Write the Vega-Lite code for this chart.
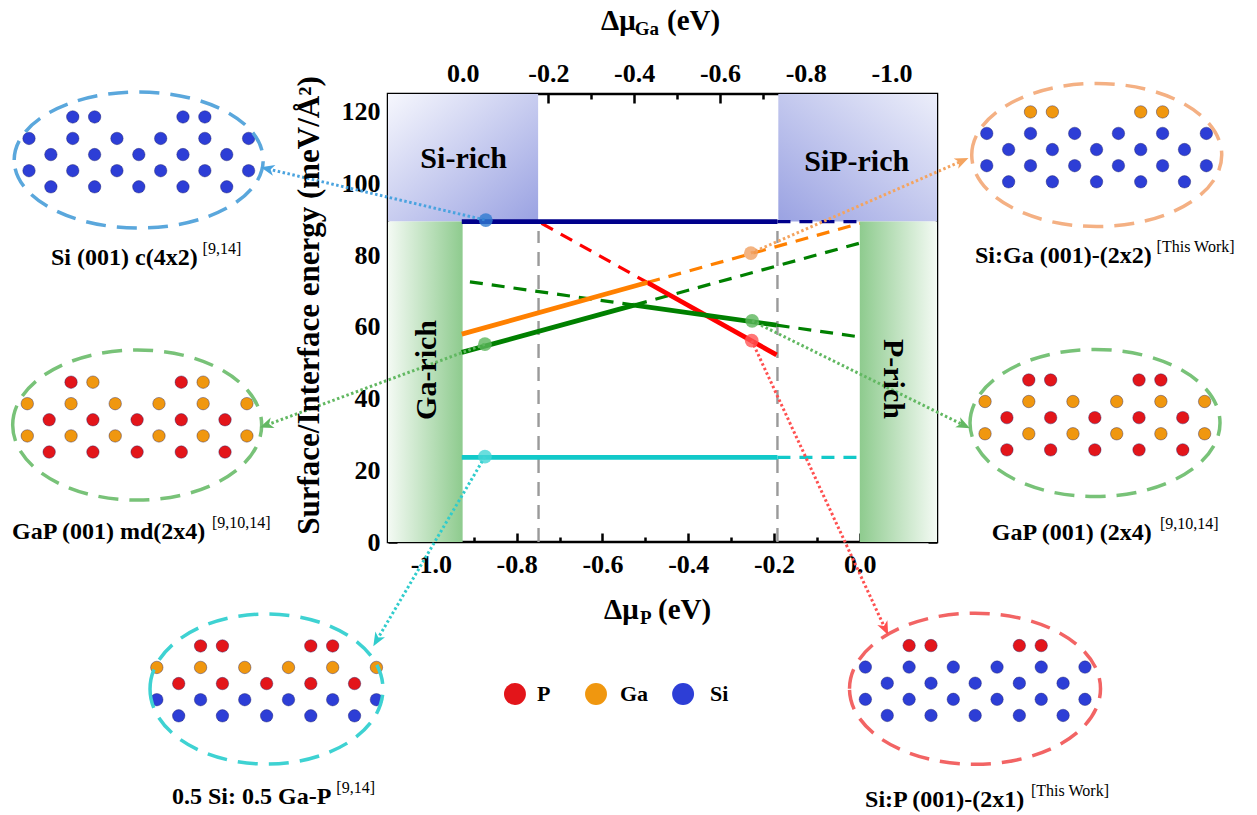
{
  "$schema": "https://vega.github.io/schema/vega-lite/v6.json",
  "width": 549,
  "height": 448,
  "autosize": {"type": "none"},
  "padding": {"left": 388, "top": 94, "right": 320, "bottom": 273},
  "background": "white",
  "config": {
    "view": {"stroke": "black", "strokeWidth": 2.5},
    "legend": {"disable": true},
    "axis": {"domain": false, "grid": false, "labelFont": "Liberation Serif, Times New Roman, serif", "labelFontWeight": "bold", "labelFontSize": 26, "labelColor": "black", "tickColor": "black", "tickWidth": 2.5, "labelFlush": false, "labelOverlap": false},
    "text": {"font": "Liberation Serif, Times New Roman, serif", "color": "black"}
  },
  "datasets": {
    "lines": [
      {"s": "Si", "seg": "n1", "st": "solid", "x": -0.928, "y": 89.4},
      {"s": "Si", "seg": "n1", "st": "solid", "x": -0.192, "y": 89.4},
      {"s": "Si", "seg": "n2", "st": "dash", "x": -0.192, "y": 89.4},
      {"s": "Si", "seg": "n2", "st": "dash", "x": 0.0, "y": 89.4},
      {"s": "Mix", "seg": "c1", "st": "solid", "x": -0.928, "y": 23.6},
      {"s": "Mix", "seg": "c1", "st": "solid", "x": -0.192, "y": 23.6},
      {"s": "Mix", "seg": "c2", "st": "dash", "x": -0.192, "y": 23.6},
      {"s": "Mix", "seg": "c2", "st": "dash", "x": 0.0, "y": 23.6},
      {"s": "SiP", "seg": "r1", "st": "dash", "x": -0.742, "y": 88.9},
      {"s": "SiP", "seg": "r1", "st": "dash", "x": -0.4955, "y": 72.4},
      {"s": "SiP", "seg": "r2", "st": "solid", "x": -0.4955, "y": 72.4},
      {"s": "SiP", "seg": "r2", "st": "solid", "x": -0.194, "y": 52.2},
      {"s": "SiGa", "seg": "o1", "st": "solid", "x": -0.928, "y": 58.0},
      {"s": "SiGa", "seg": "o1", "st": "solid", "x": -0.4955, "y": 72.4},
      {"s": "SiGa", "seg": "o2", "st": "dash", "x": -0.4955, "y": 72.4},
      {"s": "SiGa", "seg": "o2", "st": "dash", "x": 0.0, "y": 88.9},
      {"s": "GaP", "seg": "g1", "st": "solid", "x": -0.928, "y": 52.9},
      {"s": "GaP", "seg": "g1", "st": "solid", "x": -0.526, "y": 66.1},
      {"s": "GaP", "seg": "g2", "st": "dash", "x": -0.526, "y": 66.1},
      {"s": "GaP", "seg": "g2", "st": "dash", "x": 0.0, "y": 83.4},
      {"s": "GaP", "seg": "g3", "st": "dash", "x": -0.909, "y": 72.6},
      {"s": "GaP", "seg": "g3", "st": "dash", "x": -0.526, "y": 66.1},
      {"s": "GaP", "seg": "g4", "st": "solid", "x": -0.526, "y": 66.1},
      {"s": "GaP", "seg": "g4", "st": "solid", "x": -0.194, "y": 60.5},
      {"s": "GaP", "seg": "g5", "st": "dash", "x": -0.194, "y": 60.5},
      {"s": "GaP", "seg": "g5", "st": "dash", "x": 0.0, "y": 57.2}
    ],
    "points": [
      {"k": "k1", "x": -0.872, "y": 89.8},
      {"k": "k2", "x": -0.874, "y": 55.2},
      {"k": "k3", "x": -0.874, "y": 23.8},
      {"k": "k4", "x": -0.254, "y": 80.6},
      {"k": "k5", "x": -0.251, "y": 61.7},
      {"k": "k6", "x": -0.252, "y": 56.2}
    ],
    "connectors": [
      {"k": "k1", "x": -0.872, "y": 89.8}, {"k": "k1", "x": -1.3798, "y": 104.07},
      {"k": "k2", "x": -0.874, "y": 55.2}, {"k": "k2", "x": -1.3828, "y": 32.65},
      {"k": "k3", "x": -0.874, "y": 23.8}, {"k": "k3", "x": -1.1256, "y": -27.3},
      {"k": "k4", "x": -0.254, "y": 80.6}, {"k": "k4", "x": 0.2376, "y": 106.3},
      {"k": "k5", "x": -0.251, "y": 61.7}, {"k": "k5", "x": 0.2414, "y": 32.65},
      {"k": "k6", "x": -0.252, "y": 56.2}, {"k": "k6", "x": 0.0588, "y": -24.1}
    ],
    "tips": [
      {"k": "k1", "x": -1.3798, "y": 104.07},
      {"k": "k2", "x": -1.3828, "y": 32.65},
      {"k": "k3", "x": -1.1256, "y": -27.3},
      {"k": "k4", "x": 0.2376, "y": 106.3},
      {"k": "k5", "x": 0.2414, "y": 32.65},
      {"k": "k6", "x": 0.0588, "y": -24.1}
    ],
    "ellipses": [
      {"id": "e1", "x": -1.6813, "y": 106.58},
      {"id": "e2", "x": -1.6848, "y": 32.64},
      {"id": "e3", "x": -1.3833, "y": -41.02},
      {"id": "e4", "x": 0.5524, "y": 107.98},
      {"id": "e5", "x": 0.5484, "y": 33.2},
      {"id": "e6", "x": 0.2686, "y": -40.93}
    ],
    "atoms": [
      {"e": "Si", "x": -1.835, "y": 118.6}, {"e": "Si", "x": -1.784, "y": 118.6}, {"e": "Si", "x": -1.578, "y": 118.6}, {"e": "Si", "x": -1.527, "y": 118.6},
      {"e": "Si", "x": -1.937, "y": 112.6}, {"e": "Si", "x": -1.835, "y": 112.6}, {"e": "Si", "x": -1.732, "y": 112.6}, {"e": "Si", "x": -1.630, "y": 112.6}, {"e": "Si", "x": -1.527, "y": 112.6}, {"e": "Si", "x": -1.425, "y": 112.6},
      {"e": "Si", "x": -1.886, "y": 108.1}, {"e": "Si", "x": -1.784, "y": 108.1}, {"e": "Si", "x": -1.681, "y": 108.1}, {"e": "Si", "x": -1.578, "y": 108.1}, {"e": "Si", "x": -1.476, "y": 108.1},
      {"e": "Si", "x": -1.937, "y": 103.6}, {"e": "Si", "x": -1.835, "y": 103.6}, {"e": "Si", "x": -1.732, "y": 103.6}, {"e": "Si", "x": -1.630, "y": 103.6}, {"e": "Si", "x": -1.527, "y": 103.6}, {"e": "Si", "x": -1.425, "y": 103.6},
      {"e": "Si", "x": -1.886, "y": 99.1}, {"e": "Si", "x": -1.784, "y": 99.1}, {"e": "Si", "x": -1.681, "y": 99.1}, {"e": "Si", "x": -1.578, "y": 99.1}, {"e": "Si", "x": -1.476, "y": 99.1},

      {"e": "P", "x": -1.839, "y": 44.6}, {"e": "Ga", "x": -1.788, "y": 44.6}, {"e": "P", "x": -1.582, "y": 44.6}, {"e": "Ga", "x": -1.531, "y": 44.6},
      {"e": "Ga", "x": -1.941, "y": 38.6}, {"e": "Ga", "x": -1.839, "y": 38.6}, {"e": "Ga", "x": -1.736, "y": 38.6}, {"e": "Ga", "x": -1.634, "y": 38.6}, {"e": "Ga", "x": -1.531, "y": 38.6}, {"e": "Ga", "x": -1.429, "y": 38.6},
      {"e": "P", "x": -1.890, "y": 34.1}, {"e": "P", "x": -1.788, "y": 34.1}, {"e": "P", "x": -1.685, "y": 34.1}, {"e": "P", "x": -1.582, "y": 34.1}, {"e": "P", "x": -1.480, "y": 34.1},
      {"e": "Ga", "x": -1.941, "y": 29.6}, {"e": "Ga", "x": -1.839, "y": 29.6}, {"e": "Ga", "x": -1.736, "y": 29.6}, {"e": "Ga", "x": -1.634, "y": 29.6}, {"e": "Ga", "x": -1.531, "y": 29.6}, {"e": "Ga", "x": -1.429, "y": 29.6},
      {"e": "P", "x": -1.890, "y": 25.1}, {"e": "P", "x": -1.788, "y": 25.1}, {"e": "P", "x": -1.685, "y": 25.1}, {"e": "P", "x": -1.582, "y": 25.1}, {"e": "P", "x": -1.480, "y": 25.1},

      {"e": "P", "x": -1.537, "y": -29.0}, {"e": "P", "x": -1.486, "y": -29.0}, {"e": "P", "x": -1.280, "y": -29.0}, {"e": "P", "x": -1.229, "y": -29.0},
      {"e": "Ga", "x": -1.639, "y": -35.0}, {"e": "Ga", "x": -1.537, "y": -35.0}, {"e": "Ga", "x": -1.434, "y": -35.0}, {"e": "Ga", "x": -1.332, "y": -35.0}, {"e": "Ga", "x": -1.229, "y": -35.0}, {"e": "Ga", "x": -1.127, "y": -35.0},
      {"e": "P", "x": -1.588, "y": -39.5}, {"e": "P", "x": -1.486, "y": -39.5}, {"e": "P", "x": -1.383, "y": -39.5}, {"e": "P", "x": -1.280, "y": -39.5}, {"e": "P", "x": -1.178, "y": -39.5},
      {"e": "Si", "x": -1.639, "y": -44.0}, {"e": "Si", "x": -1.537, "y": -44.0}, {"e": "Si", "x": -1.434, "y": -44.0}, {"e": "Si", "x": -1.332, "y": -44.0}, {"e": "Si", "x": -1.229, "y": -44.0}, {"e": "Si", "x": -1.127, "y": -44.0},
      {"e": "Si", "x": -1.588, "y": -48.5}, {"e": "Si", "x": -1.486, "y": -48.5}, {"e": "Si", "x": -1.383, "y": -48.5}, {"e": "Si", "x": -1.280, "y": -48.5}, {"e": "Si", "x": -1.178, "y": -48.5},

      {"e": "Ga", "x": 0.398, "y": 120.0}, {"e": "Ga", "x": 0.449, "y": 120.0}, {"e": "Ga", "x": 0.655, "y": 120.0}, {"e": "Ga", "x": 0.706, "y": 120.0},
      {"e": "Si", "x": 0.296, "y": 114.0}, {"e": "Si", "x": 0.398, "y": 114.0}, {"e": "Si", "x": 0.501, "y": 114.0}, {"e": "Si", "x": 0.603, "y": 114.0}, {"e": "Si", "x": 0.706, "y": 114.0}, {"e": "Si", "x": 0.808, "y": 114.0},
      {"e": "Si", "x": 0.347, "y": 109.5}, {"e": "Si", "x": 0.449, "y": 109.5}, {"e": "Si", "x": 0.552, "y": 109.5}, {"e": "Si", "x": 0.655, "y": 109.5}, {"e": "Si", "x": 0.757, "y": 109.5},
      {"e": "Si", "x": 0.296, "y": 105.0}, {"e": "Si", "x": 0.398, "y": 105.0}, {"e": "Si", "x": 0.501, "y": 105.0}, {"e": "Si", "x": 0.603, "y": 105.0}, {"e": "Si", "x": 0.706, "y": 105.0}, {"e": "Si", "x": 0.808, "y": 105.0},
      {"e": "Si", "x": 0.347, "y": 100.5}, {"e": "Si", "x": 0.449, "y": 100.5}, {"e": "Si", "x": 0.552, "y": 100.5}, {"e": "Si", "x": 0.655, "y": 100.5}, {"e": "Si", "x": 0.757, "y": 100.5},

      {"e": "P", "x": 0.394, "y": 45.2}, {"e": "P", "x": 0.445, "y": 45.2}, {"e": "P", "x": 0.651, "y": 45.2}, {"e": "P", "x": 0.702, "y": 45.2},
      {"e": "Ga", "x": 0.292, "y": 39.2}, {"e": "Ga", "x": 0.394, "y": 39.2}, {"e": "Ga", "x": 0.497, "y": 39.2}, {"e": "Ga", "x": 0.599, "y": 39.2}, {"e": "Ga", "x": 0.702, "y": 39.2}, {"e": "Ga", "x": 0.804, "y": 39.2},
      {"e": "P", "x": 0.343, "y": 34.7}, {"e": "P", "x": 0.445, "y": 34.7}, {"e": "P", "x": 0.548, "y": 34.7}, {"e": "P", "x": 0.651, "y": 34.7}, {"e": "P", "x": 0.753, "y": 34.7},
      {"e": "Ga", "x": 0.292, "y": 30.2}, {"e": "Ga", "x": 0.394, "y": 30.2}, {"e": "Ga", "x": 0.497, "y": 30.2}, {"e": "Ga", "x": 0.599, "y": 30.2}, {"e": "Ga", "x": 0.702, "y": 30.2}, {"e": "Ga", "x": 0.804, "y": 30.2},
      {"e": "P", "x": 0.343, "y": 25.7}, {"e": "P", "x": 0.445, "y": 25.7}, {"e": "P", "x": 0.548, "y": 25.7}, {"e": "P", "x": 0.651, "y": 25.7}, {"e": "P", "x": 0.753, "y": 25.7},

      {"e": "P", "x": 0.115, "y": -28.9}, {"e": "P", "x": 0.166, "y": -28.9}, {"e": "P", "x": 0.372, "y": -28.9}, {"e": "P", "x": 0.423, "y": -28.9},
      {"e": "Si", "x": 0.013, "y": -34.9}, {"e": "Si", "x": 0.115, "y": -34.9}, {"e": "Si", "x": 0.218, "y": -34.9}, {"e": "Si", "x": 0.320, "y": -34.9}, {"e": "Si", "x": 0.423, "y": -34.9}, {"e": "Si", "x": 0.525, "y": -34.9},
      {"e": "Si", "x": 0.064, "y": -39.4}, {"e": "Si", "x": 0.166, "y": -39.4}, {"e": "Si", "x": 0.269, "y": -39.4}, {"e": "Si", "x": 0.372, "y": -39.4}, {"e": "Si", "x": 0.474, "y": -39.4},
      {"e": "Si", "x": 0.013, "y": -43.9}, {"e": "Si", "x": 0.115, "y": -43.9}, {"e": "Si", "x": 0.218, "y": -43.9}, {"e": "Si", "x": 0.320, "y": -43.9}, {"e": "Si", "x": 0.423, "y": -43.9}, {"e": "Si", "x": 0.525, "y": -43.9},
      {"e": "Si", "x": 0.064, "y": -48.4}, {"e": "Si", "x": 0.166, "y": -48.4}, {"e": "Si", "x": 0.269, "y": -48.4}, {"e": "Si", "x": 0.372, "y": -48.4}, {"e": "Si", "x": 0.474, "y": -48.4}
    ],
    "legendBalls": [
      {"e": "P", "x": -0.804, "y": -42.4},
      {"e": "Ga", "x": -0.615, "y": -42.4},
      {"e": "Si", "x": -0.412, "y": -42.4}
    ],
    "legendText": [
      {"t": "P", "x": -0.7526, "y": -42.4},
      {"t": "Ga", "x": -0.5591, "y": -42.4},
      {"t": "Si", "x": -0.3493, "y": -42.4}
    ],
    "structLabels": [
      {"t": "Si (001) c(4x2)", "x": -1.8857, "y": 79.24},
      {"t": "GaP (001) md(2x4)", "x": -1.9767, "y": 2.87},
      {"t": "0.5 Si: 0.5 Ga-P", "x": -1.6036, "y": -71.15},
      {"t": "Si:Ga (001)-(2x2)", "x": 0.2686, "y": 79.8},
      {"t": "GaP (001) (2x4)", "x": 0.3076, "y": 2.51},
      {"t": "Si:P (001)-(2x1)", "x": 0.0122, "y": -71.99}
    ],
    "refLabels": [
      {"t": "[9,14]", "x": -1.5323, "y": 79.24},
      {"t": "[9,10,14]", "x": -1.5103, "y": 2.87},
      {"t": "[9,14]", "x": -1.2205, "y": -71.15},
      {"t": "[This Work]", "x": 0.692, "y": 79.8},
      {"t": "[9,10,14]", "x": 0.700, "y": 2.51},
      {"t": "[This Work]", "x": 0.3992, "y": -71.99}
    ]
  },
  "layer": [
    {
      "encoding": {
        "x": {"field": "x", "type": "quantitative", "scale": {"domain": [-1.1, 0.18], "nice": false, "zero": false}, "axis": null},
        "y": {"field": "y", "type": "quantitative", "scale": {"domain": [0, 125], "nice": false, "zero": false}, "axis": null}
      },
      "layer": [
        {
          "data": {"values": [{"x": -1.1, "x2": -0.75, "y": 89.4, "y2": 125}]},
          "mark": {"type": "rect", "fill": {"gradient": "linear", "x1": 0, "y1": 0, "x2": 1, "y2": 1, "stops": [{"offset": 0, "color": "#f6f7fd"}, {"offset": 1, "color": "#9aa2e2"}]}},
          "encoding": {
            "x": {"field": "x", "type": "quantitative", "scale": {"domain": [-1.1, 0.18], "nice": false, "zero": false},
                  "axis": {"orient": "bottom", "values": [-1, -0.8, -0.6, -0.4, -0.2, 0], "format": ".1f", "labelExpr": "replace(datum.label, '\u2212', '-')", "tickSize": -9, "labelPadding": 18, "title": null}},
            "x2": {"field": "x2"},
            "y": {"field": "y", "type": "quantitative", "scale": {"domain": [0, 125], "nice": false, "zero": false},
                  "axis": {"orient": "left", "values": [0, 20, 40, 60, 80, 100, 120], "format": "d", "tickSize": -9, "labelPadding": 17, "title": null}},
            "y2": {"field": "y2"}
          }
        },
        {
          "data": {"values": [{"x": -0.19, "x2": 0.18, "y": 89.4, "y2": 125}]},
          "mark": {"type": "rect", "fill": {"gradient": "linear", "x1": 0, "y1": 1, "x2": 1, "y2": 0, "stops": [{"offset": 0, "color": "#9aa2e2"}, {"offset": 1, "color": "#eceefa"}]}},
          "encoding": {
            "x": {"field": "x", "type": "quantitative", "scale": {"domain": [-1.1, 0.18], "nice": false, "zero": false},
                  "axis": {"orient": "bottom", "values": [-0.9, -0.7, -0.5, -0.3, -0.1, 0.1], "labels": false, "tickSize": -5, "title": null}},
            "x2": {"field": "x2"},
            "y": {"field": "y", "type": "quantitative", "scale": {"domain": [0, 125], "nice": false, "zero": false},
                  "axis": {"orient": "left", "values": [10, 30, 50, 70, 90, 110], "labels": false, "tickSize": -5, "title": null}},
            "y2": {"field": "y2"}
          }
        },
        {
          "data": {"values": [{"x": -1.1, "x2": -0.926, "y": 0, "y2": 89.4}]},
          "mark": {"type": "rect", "fill": {"gradient": "linear", "x1": 0, "y1": 0, "x2": 1, "y2": 0, "stops": [{"offset": 0, "color": "#f4faf4"}, {"offset": 1, "color": "#8ecb8e"}]}},
          "encoding": {
            "x2": {"field": "x2"},
            "y": {"field": "y", "type": "quantitative", "scale": {"domain": [0, 125], "nice": false, "zero": false},
                  "axis": {"orient": "right", "values": [0, 20, 40, 60, 80, 100, 120], "labels": false, "tickSize": -9, "title": null}},
            "y2": {"field": "y2"}
          }
        },
        {
          "data": {"values": [{"x": 0.0, "x2": 0.18, "y": 0, "y2": 89.4}]},
          "mark": {"type": "rect", "fill": {"gradient": "linear", "x1": 0, "y1": 0, "x2": 1, "y2": 0, "stops": [{"offset": 0, "color": "#8ecb8e"}, {"offset": 1, "color": "#f4faf4"}]}},
          "encoding": {
            "x2": {"field": "x2"},
            "y": {"field": "y", "type": "quantitative", "scale": {"domain": [0, 125], "nice": false, "zero": false},
                  "axis": {"orient": "right", "values": [10, 30, 50, 70, 90, 110], "labels": false, "tickSize": -5, "title": null}},
            "y2": {"field": "y2"}
          }
        },
        {
          "data": {"values": [{"x": -0.749, "y": 0, "y2": 86.8}, {"x": -0.192, "y": 0, "y2": 86.8}]},
          "mark": {"type": "rule", "color": "#9a9a9a", "strokeWidth": 2.4, "strokeDash": [14, 9]},
          "encoding": {"y2": {"field": "y2"}}
        },
        {
          "data": {"name": "lines"},
          "transform": [{"filter": "datum.st == 'dash'"}],
          "mark": {"type": "line", "strokeWidth": 3.2, "strokeDash": [13, 9]},
          "encoding": {
            "detail": {"field": "seg"},
            "color": {"field": "s", "type": "nominal", "scale": {"domain": ["Si", "GaP", "SiGa", "SiP", "Mix"], "range": ["#00008b", "#008000", "#ff8000", "#ff0000", "#12c9c9"]}}
          }
        },
        {
          "data": {"name": "lines"},
          "transform": [{"filter": "datum.st == 'solid'"}],
          "mark": {"type": "line", "strokeWidth": 4.8},
          "encoding": {
            "detail": {"field": "seg"},
            "color": {"field": "s", "type": "nominal", "scale": {"domain": ["Si", "GaP", "SiGa", "SiP", "Mix"], "range": ["#00008b", "#008000", "#ff8000", "#ff0000", "#12c9c9"]}}
          }
        },
        {
          "data": {"name": "atoms"},
          "mark": {"type": "point", "filled": true, "size": 155, "opacity": 1, "stroke": "#1b1b60", "strokeWidth": 0.4},
          "encoding": {
            "color": {"field": "e", "type": "nominal", "scale": {"domain": ["Si", "Ga", "P"], "range": ["#2d3ed6", "#f0970f", "#e3151a"]}}
          }
        },
        {
          "data": {"name": "ellipses"},
          "mark": {"type": "point", "filled": false, "size": 63001, "strokeWidth": 3.5, "strokeDash": [20, 11], "opacity": 1},
          "encoding": {
            "shape": {"field": "id", "type": "nominal", "scale": {"domain": ["e1", "e2", "e3", "e4", "e5", "e6"], "range": [
              "M-0.992,0C-0.992,-0.2993,-0.5479,-0.542,0,-0.542C0.5479,-0.542,0.992,-0.2993,0.992,0C0.992,0.2993,0.5479,0.542,0,0.542C-0.5479,0.542,-0.992,0.2993,-0.992,0Z",
              "M-0.992,0C-0.992,-0.3303,-0.5479,-0.598,0,-0.598C0.5479,-0.598,0.992,-0.3303,0.992,0C0.992,0.3303,0.5479,0.598,0,0.598C-0.5479,0.598,-0.992,0.3303,-0.992,0Z",
              "M-0.928,0C-0.928,-0.3303,-0.5125,-0.598,0,-0.598C0.5125,-0.598,0.928,-0.3303,0.928,0C0.928,0.3303,0.5125,0.598,0,0.598C-0.5125,0.598,-0.928,0.3303,-0.928,0Z",
              "M-0.996,0C-0.996,-0.3148,-0.5501,-0.57,0,-0.57C0.5501,-0.57,0.996,-0.3148,0.996,0C0.996,0.3148,0.5501,0.57,0,0.57C-0.5501,0.57,-0.996,0.3148,-0.996,0Z",
              "M-0.996,0C-0.996,-0.3236,-0.5501,-0.586,0,-0.586C0.5501,-0.586,0.996,-0.3236,0.996,0C0.996,0.3236,0.5501,0.586,0,0.586C-0.5501,0.586,-0.996,0.3236,-0.996,0Z",
              "M-1,0C-1,-0.3325,-0.5523,-0.602,0,-0.602C0.5523,-0.602,1,-0.3325,1,0C1,0.3325,0.5523,0.602,0,0.602C-0.5523,0.602,-1,0.3325,-1,0Z"
            ]}},
            "color": {"field": "id", "type": "nominal", "scale": {"domain": ["e1", "e2", "e3", "e4", "e5", "e6"], "range": ["#5aa7dc", "#78c278", "#3ed2d2", "#f4b083", "#78c278", "#f26464"]}}
          }
        },
        {
          "data": {"name": "connectors"},
          "mark": {"type": "line", "strokeWidth": 3, "strokeDash": [2.5, 2.5]},
          "encoding": {
            "detail": {"field": "k"},
            "color": {"field": "k", "type": "nominal", "scale": {"domain": ["k1", "k2", "k3", "k4", "k5", "k6"], "range": ["#4aa3df", "#62b862", "#30cccc", "#f4a460", "#62b862", "#ff5050"]}}
          }
        },
        {
          "data": {"name": "points"},
          "mark": {"type": "circle", "size": 190, "opacity": 0.8},
          "encoding": {
            "color": {"field": "k", "type": "nominal", "scale": {"domain": ["k1", "k2", "k3", "k4", "k5", "k6"], "range": ["#2f7bd1", "#5bb55b", "#45d6d6", "#f0a062", "#5bb55b", "#ff5555"]}}
          }
        },
        {
          "data": {"name": "tips"},
          "mark": {"type": "point", "filled": true, "size": 220, "opacity": 1, "shape": "M0,-1L0.75,0.85L0,0.35L-0.75,0.85Z"},
          "encoding": {
            "angle": {"field": "k", "type": "nominal", "scale": {"type": "ordinal", "domain": ["k1", "k2", "k3", "k4", "k5", "k6"], "range": [283, 250, 210, 66, 116, 155]}},
            "color": {"field": "k", "type": "nominal", "scale": {"domain": ["k1", "k2", "k3", "k4", "k5", "k6"], "range": ["#4aa3df", "#62b862", "#30cccc", "#f4a460", "#62b862", "#ff5050"]}}
          }
        },
        {
          "data": {"name": "legendBalls"},
          "mark": {"type": "circle", "size": 480, "opacity": 1},
          "encoding": {
            "color": {"field": "e", "type": "nominal", "scale": {"domain": ["Si", "Ga", "P"], "range": ["#2d3ed6", "#f0970f", "#e3151a"]}}
          }
        },
        {
          "data": {"name": "legendText"},
          "mark": {"type": "text", "align": "left", "baseline": "middle", "fontSize": 22, "fontWeight": "bold"},
          "encoding": {"text": {"field": "t"}}
        },
        {
          "data": {"values": [{"t": "Si-rich", "x": -0.9235, "y": 106.86}, {"t": "SiP-rich", "x": -0.0072, "y": 106.1}]},
          "mark": {"type": "text", "align": "center", "baseline": "middle", "fontSize": 30, "fontWeight": "bold"},
          "encoding": {"text": {"field": "t"}}
        },
        {
          "data": {"values": [{"t": "Ga-rich", "x": -1.0098, "y": 48.0}]},
          "mark": {"type": "text", "align": "center", "baseline": "middle", "fontSize": 30, "fontWeight": "bold", "angle": 270},
          "encoding": {"text": {"field": "t"}}
        },
        {
          "data": {"values": [{"t": "P-rich", "x": 0.0781, "y": 45.5}]},
          "mark": {"type": "text", "align": "center", "baseline": "middle", "fontSize": 30, "fontWeight": "bold", "angle": 90},
          "encoding": {"text": {"field": "t"}}
        },
        {
          "data": {"values": [{"t": "Surface/Interface energy (meV/Å²)", "x": -1.2819, "y": 66.0}]},
          "mark": {"type": "text", "align": "center", "baseline": "middle", "fontSize": 31, "fontWeight": "bold", "angle": 270},
          "encoding": {"text": {"field": "t"}}
        },
        {
          "data": {"values": [{"t": "Δμ", "x": -0.6034, "y": 145.4}, {"t": "(eV)", "x": -0.4495, "y": 145.4}, {"t": "Δμ", "x": -0.5964, "y": -19.0}, {"t": "(eV)", "x": -0.4705, "y": -19.0}]},
          "mark": {"type": "text", "align": "left", "baseline": "middle", "fontSize": 29, "fontWeight": "bold"},
          "encoding": {"text": {"field": "t"}}
        },
        {
          "data": {"values": [{"t": "Ga", "x": -0.5245, "y": 145.4}, {"t": "P", "x": -0.5125, "y": -19.0}]},
          "mark": {"type": "text", "align": "left", "baseline": "middle", "fontSize": 19, "fontWeight": "bold", "dy": 8},
          "encoding": {"text": {"field": "t"}}
        },
        {
          "data": {"name": "structLabels"},
          "mark": {"type": "text", "align": "left", "baseline": "middle", "fontSize": 24, "fontWeight": "bold"},
          "encoding": {"text": {"field": "t"}}
        },
        {
          "data": {"name": "refLabels"},
          "mark": {"type": "text", "align": "left", "baseline": "middle", "fontSize": 16, "dy": -9},
          "encoding": {"text": {"field": "t"}}
        }
      ],
      "resolve": {
        "scale": {"color": "independent", "shape": "independent", "angle": "independent"},
        "axis": {"x": "independent", "y": "independent"}
      }
    },
    {
      "data": {"values": [{"g": 0}]},
      "layer": [
        {
          "mark": {"type": "point", "opacity": 0},
          "encoding": {
            "x": {"field": "g", "type": "quantitative", "scale": {"domain": [0.174, -1.106], "nice": false, "zero": false},
                  "axis": {"orient": "top", "values": [0, -0.2, -0.4, -0.6, -0.8, -1.0], "format": ".1f", "labelExpr": "replace(datum.label, '\u2212', '-')", "tickSize": -9, "labelPadding": 17, "title": null}}
          }
        },
        {
          "mark": {"type": "point", "opacity": 0},
          "encoding": {
            "x": {"field": "g", "type": "quantitative", "scale": {"domain": [0.174, -1.106], "nice": false, "zero": false},
                  "axis": {"orient": "top", "values": [0.1, -0.1, -0.3, -0.5, -0.7, -0.9], "labels": false, "tickSize": -5, "title": null}}
          }
        }
      ],
      "resolve": {"axis": {"x": "independent"}}
    }
  ],
  "resolve": {
    "scale": {"x": "independent"},
    "axis": {"x": "independent", "y": "independent"}
  }
}
